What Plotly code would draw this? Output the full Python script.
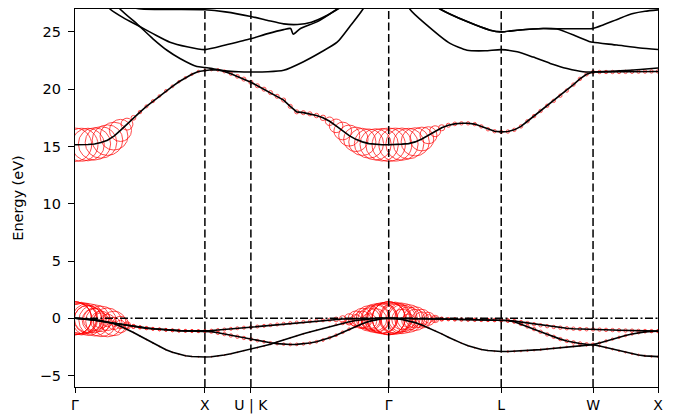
import plotly.graph_objects as go

# ---------------- data ----------------
HS_POS = [0.0, 1.0, 1.354, 2.415, 3.281, 3.988, 4.488]
HS_LABELS = ["Γ", "X", "U | K", "Γ", "L", "W", "X"]
Y_TICKS = [-5, 0, 5, 10, 15, 20, 25]
Y_TICK_LABELS = ["−5", "0", "5", "10", "15", "20", "25"]
E_FERMI = 0.0

# dense k path (Γ-X, X-U, K-Γ, Γ-L, L-W, W-X)
K_PATH = [
    0.00, 0.05, 0.10, 0.15, 0.20, 0.25, 0.30, 0.35, 0.40, 0.45, 0.50, 0.55, 0.60, 0.65, 0.70, 0.75, 0.80, 0.85, 0.90, 0.95, 1.00,
    1.05, 1.10, 1.15, 1.20, 1.25, 1.30, 1.354,
    1.404, 1.455, 1.505, 1.556, 1.606, 1.657, 1.707, 1.758, 1.808, 1.859, 1.909, 1.960, 2.010, 2.061, 2.111, 2.162, 2.212, 2.263, 2.314, 2.364, 2.415,
    2.466, 2.517, 2.568, 2.619, 2.670, 2.721, 2.772, 2.823, 2.874, 2.924, 2.975, 3.026, 3.077, 3.128, 3.179, 3.230, 3.281,
    3.332, 3.382, 3.433, 3.483, 3.534, 3.584, 3.635, 3.685, 3.736, 3.786, 3.837, 3.887, 3.938, 3.988,
    4.038, 4.088, 4.138, 4.188, 4.238, 4.288, 4.338, 4.388, 4.438, 4.488,
]

# conduction band with projection weight
C1_E = [
    15.15, 15.15, 15.17, 15.22, 15.35, 15.55, 15.90, 16.40, 16.95, 17.50, 18.00, 18.50, 18.95, 19.40, 19.85, 20.25, 20.65, 21.00, 21.30, 21.55, 21.65,
    21.70, 21.68, 21.55, 21.35, 21.12, 20.88, 20.60,
    20.30, 20.00, 19.70, 19.38, 19.05, 18.50, 18.02, 17.95, 17.85, 17.70, 17.50, 17.20, 16.80, 16.35, 15.95, 15.62, 15.40, 15.25, 15.18, 15.15, 15.15,
    15.16, 15.20, 15.25, 15.40, 15.65, 15.98, 16.33, 16.63, 16.85, 16.97, 17.02, 17.02, 16.95, 16.75, 16.50, 16.33, 16.27,
    16.30, 16.45, 16.75, 17.20, 17.65, 18.10, 18.55, 18.98, 19.43, 19.88, 20.40, 20.90, 21.30, 21.50,
    21.50, 21.50, 21.50, 21.50, 21.51, 21.52, 21.53, 21.54, 21.55, 21.55,
]
C1_W = [
    0.98, 0.97, 0.96, 0.95, 0.93, 0.90, 0.82, 0.65, 0.35, 0.14, 0.10, 0.09, 0.09, 0.08, 0.08, 0.08, 0.07, 0.07, 0.07, 0.07, 0.07,
    0.07, 0.08, 0.09, 0.10, 0.11, 0.12, 0.12,
    0.12, 0.12, 0.12, 0.12, 0.12, 0.12, 0.12, 0.12, 0.12, 0.13, 0.16, 0.25, 0.40, 0.52, 0.62, 0.72, 0.80, 0.86, 0.92, 0.96, 0.98,
    0.97, 0.95, 0.90, 0.83, 0.70, 0.50, 0.32, 0.18, 0.12, 0.11, 0.10, 0.10, 0.10, 0.10, 0.10, 0.10, 0.10,
    0.10, 0.10, 0.10, 0.10, 0.10, 0.10, 0.10, 0.10, 0.10, 0.10, 0.10, 0.10, 0.10, 0.10,
    0.10, 0.10, 0.10, 0.10, 0.10, 0.10, 0.10, 0.10, 0.10, 0.10,
]

# valence bands with projection weights
V1_E = [
    0.00, -0.03, -0.10, -0.18, -0.27, -0.36, -0.45, -0.54, -0.63, -0.71, -0.79, -0.86, -0.92, -0.97, -1.01, -1.05, -1.08, -1.10, -1.11, -1.12, -1.12,
    -1.08, -1.03, -0.98, -0.92, -0.87, -0.82, -0.78,
    -0.72, -0.66, -0.60, -0.54, -0.48, -0.42, -0.37, -0.32, -0.27, -0.22, -0.18, -0.14, -0.10, -0.07, -0.05, -0.03, -0.02, -0.01, 0.00, 0.00, 0.00,
    0.00, -0.01, -0.02, -0.03, -0.04, -0.05, -0.06, -0.07, -0.08, -0.10, -0.11, -0.12, -0.13, -0.14, -0.15, -0.16, -0.17,
    -0.20, -0.25, -0.33, -0.42, -0.52, -0.61, -0.69, -0.76, -0.82, -0.87, -0.91, -0.94, -0.96, -0.97,
    -0.99, -1.01, -1.03, -1.05, -1.07, -1.08, -1.10, -1.11, -1.12, -1.12,
]
V1_W = [
    0.97, 0.96, 0.94, 0.92, 0.90, 0.85, 0.72, 0.48, 0.22, 0.12, 0.10, 0.10, 0.09, 0.09, 0.09, 0.09, 0.09, 0.09, 0.09, 0.09, 0.09,
    0.09, 0.09, 0.09, 0.09, 0.09, 0.09, 0.09,
    0.09, 0.09, 0.09, 0.09, 0.09, 0.09, 0.09, 0.09, 0.09, 0.09, 0.09, 0.10, 0.14, 0.20, 0.30, 0.45, 0.60, 0.75, 0.85, 0.92, 0.97,
    0.95, 0.90, 0.82, 0.70, 0.55, 0.38, 0.22, 0.12, 0.10, 0.10, 0.10, 0.10, 0.10, 0.10, 0.10, 0.10, 0.10,
    0.10, 0.10, 0.10, 0.10, 0.10, 0.10, 0.10, 0.10, 0.10, 0.10, 0.10, 0.10, 0.10, 0.10,
    0.10, 0.10, 0.10, 0.10, 0.10, 0.10, 0.10, 0.10, 0.10, 0.10,
]
V2_E = [
    0.00, -0.03, -0.10, -0.18, -0.27, -0.36, -0.45, -0.54, -0.63, -0.71, -0.79, -0.86, -0.92, -0.97, -1.01, -1.05, -1.08, -1.10, -1.11, -1.12, -1.12,
    -1.17, -1.27, -1.38, -1.50, -1.61, -1.72, -1.83,
    -1.95, -2.05, -2.14, -2.21, -2.26, -2.29, -2.28, -2.24, -2.16, -2.05, -1.90, -1.70, -1.48, -1.22, -0.95, -0.70, -0.47, -0.27, -0.12, -0.03, 0.00,
    0.00, -0.01, -0.02, -0.03, -0.04, -0.05, -0.06, -0.07, -0.08, -0.10, -0.11, -0.12, -0.13, -0.14, -0.15, -0.16, -0.17,
    -0.20, -0.30, -0.50, -0.72, -0.95, -1.18, -1.41, -1.62, -1.82, -1.98, -2.10, -2.20, -2.27, -2.30,
    -2.42, -2.56, -2.70, -2.84, -2.97, -3.10, -3.20, -3.28, -3.33, -3.35,
]
V2_W = [
    0.97, 0.90, 0.82, 0.72, 0.60, 0.48, 0.36, 0.25, 0.15, 0.10, 0.08, 0.08, 0.08, 0.08, 0.08, 0.08, 0.08, 0.08, 0.08, 0.08, 0.08,
    0.10, 0.10, 0.10, 0.10, 0.10, 0.10, 0.10,
    0.08, 0.08, 0.08, 0.08, 0.08, 0.08, 0.08, 0.08, 0.08, 0.08, 0.08, 0.08, 0.08, 0.08, 0.08, 0.08, 0.25, 0.45, 0.65, 0.85, 0.97,
    0.90, 0.80, 0.68, 0.55, 0.40, 0.25, 0.14, 0.10, 0.08, 0.08, 0.08, 0.08, 0.08, 0.08, 0.08, 0.08, 0.08,
    0.10, 0.10, 0.10, 0.10, 0.10, 0.10, 0.10, 0.10, 0.10, 0.10, 0.10, 0.10, 0.10, 0.10,
    0.05, 0.05, 0.05, 0.05, 0.05, 0.05, 0.05, 0.05, 0.05, 0.05,
]
V3_E = [
    0.00, -0.02, -0.05, -0.11, -0.20, -0.32, -0.48, -0.70, -0.95, -1.24, -1.55, -1.86, -2.17, -2.47, -2.74, -2.97, -3.15, -3.27, -3.34, -3.37, -3.38,
    -3.36, -3.30, -3.21, -3.10, -2.97, -2.83, -2.70,
    -2.58, -2.44, -2.27, -2.08, -1.89, -1.71, -1.53, -1.36, -1.20, -1.04, -0.88, -0.72, -0.56, -0.42, -0.30, -0.20, -0.12, -0.06, -0.02, 0.00, 0.00,
    -0.03, -0.10, -0.22, -0.38, -0.58, -0.82, -1.08, -1.36, -1.65, -1.92, -2.17, -2.40, -2.58, -2.72, -2.82, -2.88, -2.90,
    -2.90, -2.88, -2.86, -2.83, -2.79, -2.74, -2.68, -2.62, -2.56, -2.50, -2.44, -2.39, -2.34, -2.30,
    -2.15, -1.98, -1.82, -1.66, -1.51, -1.38, -1.27, -1.19, -1.14, -1.12,
]
V3_W = [
    0.97, 0.90, 0.80, 0.65, 0.45, 0.28, 0.15, 0.08, 0.04, 0.03, 0.03, 0.03, 0.03, 0.03, 0.03, 0.03, 0.03, 0.03, 0.03, 0.03, 0.03,
    0.03, 0.03, 0.03, 0.03, 0.03, 0.03, 0.03,
    0.03, 0.03, 0.03, 0.03, 0.03, 0.03, 0.03, 0.03, 0.03, 0.03, 0.03, 0.03, 0.06, 0.10, 0.20, 0.35, 0.50, 0.65, 0.80, 0.90, 0.97,
    0.85, 0.60, 0.40, 0.22, 0.10, 0.05, 0.03, 0.03, 0.03, 0.03, 0.03, 0.03, 0.03, 0.03, 0.03, 0.03, 0.03,
    0.05, 0.05, 0.05, 0.05, 0.05, 0.05, 0.05, 0.05, 0.05, 0.05, 0.05, 0.05, 0.05, 0.05,
    0.07, 0.07, 0.07, 0.07, 0.07, 0.07, 0.07, 0.07, 0.07, 0.07,
]

# higher conduction bands (no projection)
C2_K = [0.0, 0.192, 0.346, 0.477, 0.6, 0.708, 0.808, 0.938, 1.0, 1.063, 1.157, 1.26, 1.354, 1.484, 1.606, 1.759, 1.889, 2.018, 2.117, 2.217, 2.415,
        2.577, 2.709, 2.887, 3.018, 3.157, 3.281, 3.404, 3.527, 3.658, 3.788, 3.911, 3.988, 4.196, 4.35, 4.488]
C2_E = [31.5, 29.3, 27.0, 25.7, 24.4, 23.4, 22.68, 21.98, 21.9, 21.78, 21.6, 21.52, 21.5, 21.52, 21.65, 22.4, 23.2, 24.1, 25.5, 27.0, 31.5,
        27.0, 25.6, 24.0, 23.4, 23.35, 23.45, 23.26, 22.8, 22.25, 21.8, 21.52, 21.5, 21.6, 21.72, 21.85]

C3_K = [0.0, 0.154, 0.269, 0.377, 0.477, 0.6, 0.731, 0.862, 1.0, 1.173, 1.354, 1.484, 1.606, 1.66, 1.68, 1.736, 1.866, 2.018, 2.117, 2.415,
        2.655, 2.81, 3.018, 3.196, 3.281, 3.404, 3.604, 3.711, 3.865, 3.965, 3.988, 4.173, 4.35, 4.488]
C3_E = [30.5, 28.8, 27.0, 26.2, 25.6, 24.85, 24.1, 23.7, 23.45, 23.9, 24.4, 24.85, 25.2, 25.3, 24.8, 25.3, 25.9, 27.0, 27.8, 30.5,
        28.2, 27.0, 25.9, 25.15, 25.0, 25.15, 25.3, 25.25, 24.6, 24.15, 24.1, 23.85, 23.6, 23.47]

C4_K = [0.0, 0.3, 0.51, 0.75, 1.0, 1.157, 1.354, 1.484, 1.606, 1.713, 1.82, 1.95, 2.04, 2.2, 2.415,
        2.655, 2.81, 3.018, 3.196, 3.281, 3.404, 3.604, 3.711, 3.85, 3.988, 4.065, 4.196, 4.296, 4.388, 4.488]
C4_E = [28.5, 27.5, 27.0, 26.96, 26.93, 26.75, 26.35, 26.0, 25.7, 25.65, 25.85, 26.5, 27.1, 28.2, 30.5,
        28.2, 27.0, 25.9, 25.15, 25.0, 25.15, 25.3, 25.27, 25.28, 25.3, 25.6, 26.2, 26.6, 26.8, 26.92]

# ---------------- styles ----------------
FONT = "DejaVu Sans"
MARKER_PX_PER_WEIGHT = 34
BAND_COLOR = "black"
FAT_COLOR = "red"

fig = go.Figure()

# projected (fat-band) circles first
for e, w in [(V1_E, V1_W), (V2_E, V2_W), (V3_E, V3_W), (C1_E, C1_W)]:
    fig.add_trace(go.Scatter(
        x=K_PATH, y=e, mode="markers",
        marker=dict(symbol="circle", size=[MARKER_PX_PER_WEIGHT * v for v in w],
                    color="rgba(0,0,0,0)", line=dict(color=FAT_COLOR, width=1.0)),
        hoverinfo="skip", showlegend=False, cliponaxis=True))

# band lines
for e in [V1_E, V2_E, V3_E, C1_E]:
    fig.add_trace(go.Scatter(x=K_PATH, y=e, mode="lines",
                             line=dict(color=BAND_COLOR, width=1.6),
                             hoverinfo="skip", showlegend=False))
for k, e in [(C2_K, C2_E), (C3_K, C3_E), (C4_K, C4_E)]:
    fig.add_trace(go.Scatter(x=k, y=e, mode="lines",
                             line=dict(color=BAND_COLOR, width=1.6, shape="spline", smoothing=0.6),
                             hoverinfo="skip", showlegend=False))

shapes = []
for p in HS_POS[1:-1]:
    shapes.append(dict(type="line", xref="x", yref="paper", x0=p, x1=p, y0=0, y1=1,
                       line=dict(color="black", width=1.5, dash="8px,3.5px"), layer="above"))
shapes.append(dict(type="line", xref="paper", yref="y", x0=0, x1=1, y0=E_FERMI, y1=E_FERMI,
                   line=dict(color="black", width=1.3, dash="8px,2.5px,2px,2.5px"), layer="above"))

axis_common = dict(showgrid=False, zeroline=False, showline=True, mirror=True,
                   linecolor="black", linewidth=1.2, ticks="outside",
                   tickwidth=1.2, tickcolor="black", automargin=False)

# the page body has an 8px margin, so the figure is sized to the remaining window
fig.update_layout(
    template="none",
    width=669, height=406,
    margin=dict(l=67, r=19, t=1, b=27),
    plot_bgcolor="white", paper_bgcolor="white",
    shapes=shapes,
    xaxis=dict(range=[HS_POS[0], HS_POS[-1]], tickvals=HS_POS, ticktext=HS_LABELS,
               ticklen=5, ticklabelstandoff=0,
               tickfont=dict(family=FONT, size=14, color="black"), **axis_common),
    yaxis=dict(range=[-6, 27], tickvals=Y_TICKS, ticktext=Y_TICK_LABELS,
               ticklen=6, ticklabelstandoff=4,
               tickfont=dict(family=FONT, size=14.5, color="black"),
               title=dict(text="Energy (eV)", font=dict(family=FONT, size=14.5, color="black"), standoff=12),
               **axis_common),
    showlegend=False,
)

fig.write_html("out.html")
